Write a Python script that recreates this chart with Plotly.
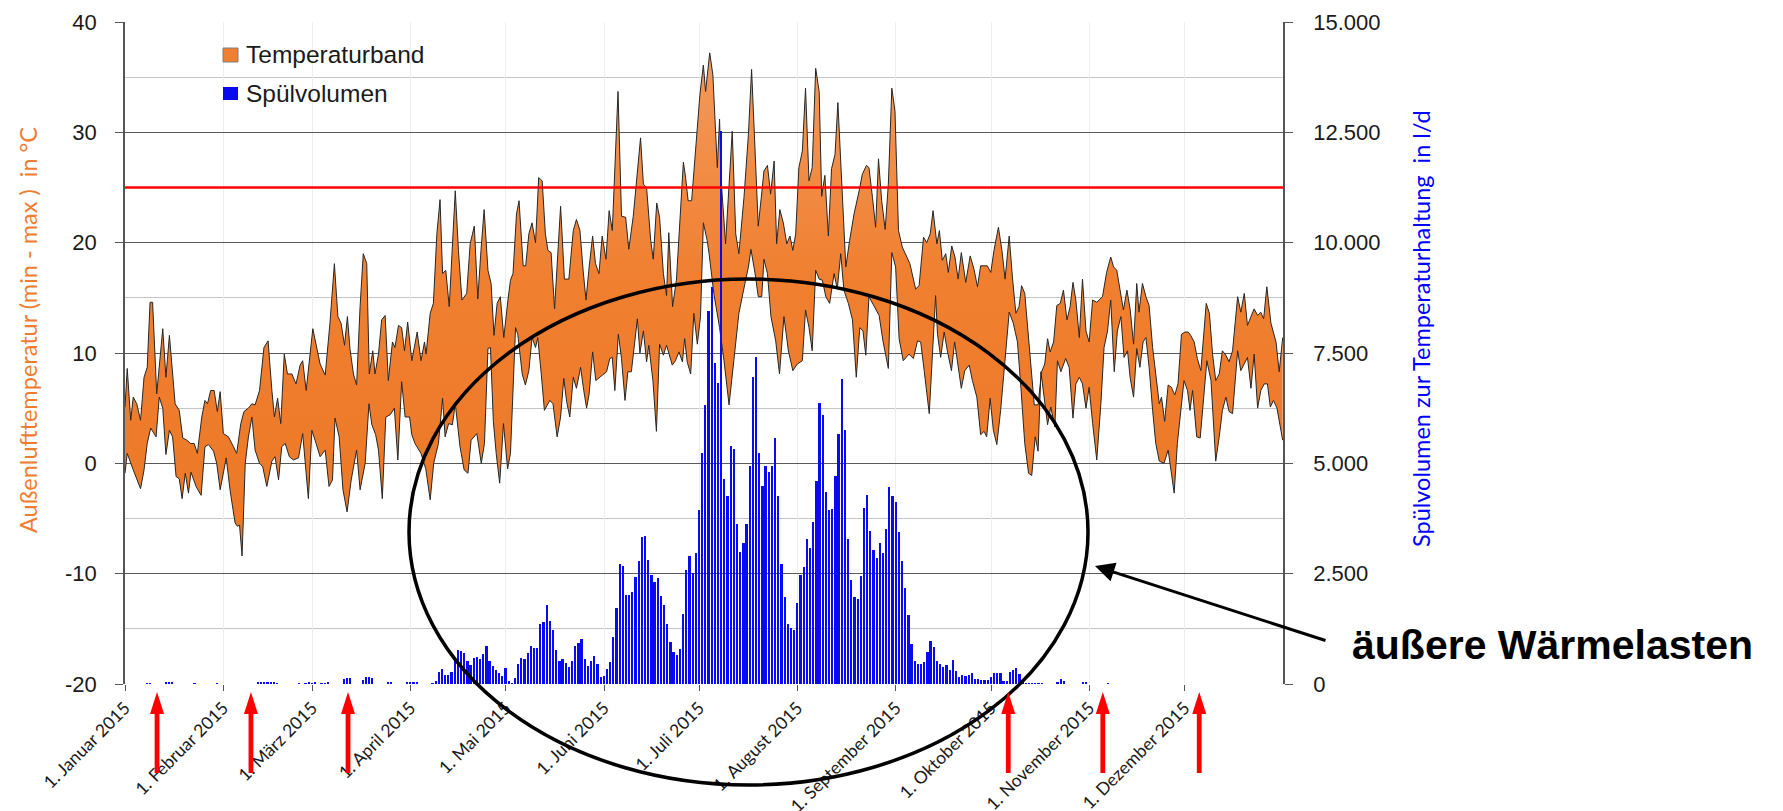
import plotly.graph_objects as go
from datetime import datetime, timedelta

# ---------------- data ----------------
JAHR_START = datetime(2015, 1, 1)

# (Tag des Jahres, Tagesmaximum °C)
tmax_punkte = [
    (0.0, 5.1), (0.7, 8.6), (1.8, 3.9), (2.6, 6.0), (3.7, 5.4), (4.9, 3.9), (6.0, 7.8), (7.0, 8.7),
    (7.9, 14.6), (8.7, 14.6), (10.0, 6.3), (11.9, 12.2), (12.9, 7.8), (14.0, 11.6), (15.8, 5.4),
    (17.1, 4.8), (18.2, 2.3), (19.5, 2.1), (20.7, 1.8), (21.8, 1.8), (22.8, 0.9), (24.2, 4.2),
    (25.2, 5.7), (26.0, 5.4), (27.0, 6.6), (28.1, 6.6), (29.1, 4.7), (30.0, 6.5), (31.0, 2.7),
    (32.6, 2.4), (34.2, 1.5), (35.2, 0.9), (36.5, 3.6), (37.5, 4.7), (38.9, 5.0), (40.0, 5.4),
    (41.0, 5.3), (42.4, 6.6), (43.8, 10.5), (45.1, 11.1), (46.3, 6.6), (47.1, 4.2), (48.1, 5.9),
    (49.1, 3.6), (50.2, 9.9), (51.2, 8.1), (52.6, 8.1), (53.9, 7.2), (55.2, 8.9), (56.0, 9.3),
    (57.1, 6.6), (59.2, 12.2),
    (61.5, 9.0), (63.1, 8.0), (64.6, 12.7), (66.0, 18.1), (67.1, 13.3), (68.1, 12.7), (69.2, 10.7),
    (70.1, 13.3), (70.9, 10.4), (72.0, 8.1), (73.0, 7.1), (74.1, 14.2), (75.1, 19.0), (76.2, 18.1),
    (77.0, 8.1), (78.1, 10.2), (78.8, 8.1), (79.9, 9.9), (80.9, 13.0), (82.0, 13.4), (83.0, 7.5),
    (84.3, 11.0), (85.1, 10.5), (86.2, 12.5), (87.2, 12.3), (88.1, 10.2), (89.1, 12.8), (90.4, 9.3),
    (92.1, 11.9), (93.3, 9.3), (94.4, 11.0), (94.9, 9.9), (96.2, 13.6), (97.2, 14.5), (98.3, 20.8),
    (99.3, 23.9), (100.1, 17.2), (101.1, 17.5), (102.2, 14.2), (103.2, 20.5), (104.1, 24.7),
    (105.1, 19.3), (106.2, 14.8), (107.7, 15.4), (108.8, 19.9), (110.1, 21.5), (111.2, 14.9),
    (112.2, 19.3), (113.2, 23.0), (114.4, 17.5), (115.4, 16.3), (116.3, 11.6), (117.3, 14.5),
    (118.3, 15.1), (119.4, 11.4), (120.7, 14.8),
    (121.5, 16.6), (122.3, 17.2), (123.4, 22.6), (124.2, 23.8), (125.5, 17.9), (126.3, 17.9),
    (127.3, 20.8), (128.3, 21.8), (129.4, 20.0), (130.4, 25.9), (131.5, 25.6), (132.5, 20.8),
    (133.3, 19.3), (134.3, 19.1), (135.4, 14.0), (137.3, 23.3), (138.5, 16.7), (139.9, 16.7),
    (141.3, 21.1), (142.3, 22.1), (143.4, 21.1), (144.4, 17.5), (145.3, 14.8), (146.3, 17.8),
    (147.4, 20.6), (148.3, 18.1), (149.4, 17.2), (150.4, 20.6), (151.6, 18.5), (152.6, 22.9),
    (153.6, 21.1), (155.4, 33.7), (156.5, 22.4), (157.8, 22.3), (158.8, 19.4), (160.2, 22.4),
    (161.2, 25.8), (162.5, 29.5), (163.4, 25.3), (164.4, 25.0), (165.7, 20.2), (166.5, 18.5),
    (167.6, 23.6), (168.5, 22.3), (169.7, 17.2), (170.7, 15.2), (171.4, 20.9), (172.6, 14.2),
    (173.8, 16.6), (174.9, 22.0), (176.0, 27.3), (176.7, 25.9), (177.5, 23.8), (178.6, 23.8),
    (179.9, 28.9), (181.2, 33.4), (182.3, 36.1), (183.0, 33.7),
    (184.3, 37.2), (185.3, 35.2), (186.7, 26.8), (187.4, 31.2), (188.0, 25.3), (189.3, 19.9),
    (191.4, 30.1), (192.5, 20.8), (193.5, 19.0), (195.1, 24.1), (196.5, 29.8), (197.5, 35.7),
    (198.6, 28.3), (199.6, 21.5), (200.7, 24.5), (201.4, 26.5), (202.5, 27.0), (203.5, 24.4),
    (204.6, 27.4), (205.4, 19.9), (206.4, 23.0), (207.5, 21.8), (208.6, 19.9), (209.6, 20.6),
    (210.5, 19.3), (211.4, 20.8), (212.4, 26.8), (213.5, 28.3), (214.5, 34.0), (215.6, 25.6),
    (216.6, 26.8), (217.7, 35.8), (218.8, 33.7), (219.6, 24.2), (220.6, 26.1), (221.7, 20.6),
    (222.7, 26.7), (223.8, 28.0), (224.7, 32.7), (225.8, 25.6), (227.2, 17.8), (228.4, 20.2),
    (229.8, 22.6), (231.4, 24.7), (232.4, 26.2), (233.7, 27.0), (234.5, 26.8), (235.6, 24.1),
    (236.6, 21.4), (237.5, 27.6), (238.5, 23.8), (239.6, 21.2), (240.6, 25.3), (241.7, 34.0),
    (242.7, 31.9), (243.8, 21.1), (245.0, 19.6),
    (247.4, 18.1), (249.2, 15.8), (250.3, 16.1), (251.7, 20.5), (252.7, 20.0), (253.8, 20.8),
    (254.7, 22.9), (255.9, 19.9), (256.7, 21.1), (257.6, 18.4), (258.7, 19.0), (259.5, 17.3),
    (260.6, 19.7), (261.6, 18.7), (262.6, 16.7), (263.6, 19.1), (265.0, 16.4), (266.4, 18.8),
    (267.6, 17.6), (268.7, 16.0), (269.7, 17.9), (271.8, 17.9), (272.9, 17.3), (273.9, 19.3),
    (275.3, 21.4), (276.4, 19.3), (277.4, 16.7), (278.7, 20.6), (279.7, 16.9), (280.8, 13.6),
    (281.8, 14.2), (282.6, 16.1), (283.6, 15.4), (284.5, 12.7), (285.5, 9.0), (286.6, 5.3),
    (287.8, 5.3), (288.9, 8.3), (289.9, 9.0), (290.8, 11.3), (291.6, 10.1), (292.7, 11.0),
    (293.7, 14.3), (294.8, 14.5), (295.8, 15.7), (296.9, 13.0), (297.9, 14.2), (298.8, 16.4),
    (299.7, 14.8), (300.8, 11.4), (301.8, 16.7), (302.9, 12.0), (303.9, 11.0), (305.0, 14.8),
    (306.3, 14.6),
    (308.1, 15.1), (309.4, 17.3), (310.7, 18.7), (311.6, 17.8), (312.6, 17.5), (313.7, 15.4),
    (314.7, 13.9), (315.8, 15.7), (316.8, 14.0), (317.9, 10.8), (318.9, 16.3), (319.6, 13.7),
    (320.7, 16.3), (321.8, 15.1), (322.8, 14.3), (323.9, 10.5), (324.9, 7.8), (326.0, 5.4),
    (326.7, 6.0), (327.7, 3.8), (328.8, 7.1), (329.8, 6.9), (330.9, 6.2), (331.9, 7.2),
    (333.0, 11.7), (334.1, 11.9), (335.1, 11.9), (335.9, 11.6), (337.0, 11.0), (338.0, 9.5),
    (339.1, 8.4), (339.9, 11.7), (340.8, 14.5), (341.8, 13.6), (342.8, 9.9), (343.8, 7.5),
    (344.9, 8.1), (345.9, 10.2), (347.0, 9.8), (348.0, 9.2), (349.1, 10.2), (350.7, 15.1),
    (351.7, 13.7), (352.8, 15.4), (353.8, 12.5), (354.9, 13.3), (355.9, 14.0), (357.0, 13.4),
    (358.0, 13.7), (358.9, 13.1), (359.9, 16.0), (361.2, 12.7), (362.8, 11.0), (363.8, 8.3),
    (364.9, 11.4),
]

# (Tag des Jahres, Tagesminimum °C)
tmin_punkte = [
    (0.0, -0.9), (0.7, 0.9), (2.6, -0.6), (4.9, -2.3), (6.0, -0.6), (7.0, 1.8), (8.1, 3.2),
    (9.8, 2.4), (10.8, 6.0), (11.9, 5.0), (12.9, 0.8), (14.0, 3.0), (15.0, 2.4), (16.1, -1.2),
    (17.1, -1.4), (18.0, -3.2), (19.0, -0.9), (20.0, -2.7), (20.8, -0.8), (22.4, -2.1),
    (24.0, -2.9), (25.2, 1.5), (26.3, 1.7), (27.9, 1.1), (28.9, 0.0), (30.0, -2.4), (31.9, 0.5),
    (33.1, -2.4), (34.7, -5.4), (35.4, -5.7), (36.1, -5.6), (36.9, -8.4), (37.9, 0.0),
    (38.9, 2.4), (40.0, 4.2), (41.0, 1.2), (42.4, 0.0), (43.4, -0.3), (44.7, -2.1), (46.3, 0.2),
    (47.3, 0.6), (48.4, -1.5), (49.4, 1.5), (50.5, 1.8), (51.8, 0.6), (53.1, 0.3), (54.7, 0.5),
    (56.0, 2.7), (57.8, -3.2), (58.9, 3.0),
    (59.9, 2.1), (61.5, 0.6), (63.1, 1.2), (64.3, -2.1), (65.4, -1.5), (66.2, 4.1), (67.5, 2.4),
    (68.7, -2.4), (70.0, -4.4), (71.3, -1.5), (73.0, 1.2), (74.1, -2.4), (75.7, 0.0),
    (76.9, 5.4), (77.8, 3.5), (79.0, 2.6), (79.9, 1.2), (81.1, -3.2), (82.2, 4.2), (83.6, 4.4),
    (84.9, 5.0), (86.0, 0.3), (87.2, 7.4), (88.3, 4.2), (89.7, 4.2), (90.4, 2.6), (91.4, 1.8),
    (93.3, 0.9), (94.8, -0.5), (96.2, -3.3), (97.3, 0.0), (98.8, 1.8), (100.1, 5.9),
    (100.9, 2.4), (102.0, 3.6), (103.2, 3.5), (104.1, 5.4), (105.6, 1.5), (106.9, -0.6),
    (108.1, -0.9), (109.1, 2.1), (110.9, 2.7), (112.3, 0.0), (113.3, 1.8), (114.4, 10.4),
    (115.2, 10.5), (116.1, 3.8), (117.0, 0.9), (118.1, -1.8), (119.3, 3.6), (120.6, -0.5),
    (121.5, 0.9), (123.1, 12.3), (123.8, 11.7), (125.2, 8.1), (126.2, 7.1), (127.3, 8.4),
    (128.3, 11.4), (129.4, 10.5), (130.1, 11.4), (131.2, 8.1), (132.2, 4.8), (133.9, 5.7),
    (134.9, 5.4), (136.2, 2.4), (137.3, 4.2), (138.3, 7.7), (139.2, 5.6), (140.2, 4.2),
    (141.3, 7.8), (142.3, 6.8), (143.6, 8.7), (144.6, 6.6), (145.5, 5.0), (146.3, 6.3),
    (147.4, 10.1), (148.4, 7.5), (149.5, 7.8), (150.5, 8.0), (151.8, 8.3), (152.8, 9.5),
    (153.6, 9.6), (154.4, 6.6), (155.5, 11.7), (156.5, 9.5), (157.6, 5.7), (158.5, 8.3),
    (159.6, 8.3), (160.4, 10.1), (161.5, 13.1), (162.3, 10.0), (163.4, 12.0), (164.4, 9.2),
    (165.1, 10.7), (166.4, 7.5), (167.5, 2.9), (168.5, 10.8), (169.7, 9.8), (170.7, 10.7),
    (172.5, 8.9), (173.5, 9.3), (174.6, 10.1), (175.7, 9.2), (176.4, 11.3), (177.2, 9.2),
    (178.3, 8.1), (179.3, 13.6), (180.4, 10.8), (181.4, 13.3), (182.3, 21.8), (183.5, 20.2),
    (184.1, 19.0), (185.6, 15.4), (187.4, 12.3), (188.8, 9.3), (190.4, 5.3), (191.9, 9.3),
    (193.5, 13.6), (195.4, 16.3), (196.5, 17.8), (197.3, 19.4), (198.6, 17.2), (199.6, 15.1),
    (200.7, 15.1), (201.4, 18.5), (202.5, 17.2), (203.6, 13.3), (205.1, 11.1), (206.3, 8.1),
    (207.7, 13.3), (209.1, 10.2), (210.5, 8.4), (211.9, 9.0), (213.5, 9.3), (214.5, 13.9),
    (215.6, 12.3), (216.6, 10.2), (217.7, 17.5), (218.8, 16.7), (219.8, 16.6), (220.9, 15.1),
    (222.1, 14.5), (223.5, 17.2), (224.5, 15.8), (225.6, 19.0), (226.6, 15.7), (228.0, 14.5),
    (229.3, 13.0), (230.5, 7.8), (231.6, 12.3), (232.6, 12.0), (233.5, 9.8), (234.5, 15.1),
    (236.1, 14.2), (237.7, 13.4), (238.9, 11.1), (240.6, 8.6), (241.7, 19.1), (242.9, 17.8),
    (244.0, 11.3), (245.3, 9.3),
    (247.1, 9.9), (248.5, 9.5), (249.8, 11.1), (250.8, 11.0), (251.9, 8.4), (253.5, 4.5),
    (255.5, 15.2), (256.1, 11.7), (257.1, 9.6), (258.2, 11.9), (259.2, 10.2), (260.5, 8.4),
    (261.5, 11.0), (262.6, 9.0), (263.6, 6.8), (264.7, 8.4), (266.1, 8.9), (267.1, 7.5),
    (268.5, 6.0), (269.7, 2.6), (270.8, 2.9), (271.6, 2.4), (272.7, 5.9), (273.7, 3.0),
    (274.8, 1.7), (276.0, 4.8), (277.3, 9.0), (278.7, 13.7), (280.0, 12.7), (281.3, 11.0),
    (282.4, 6.8), (283.6, 1.8), (284.8, -0.9), (285.8, -1.1), (286.9, 2.4), (287.8, 1.1),
    (288.7, 8.3), (290.8, 3.5), (291.8, 5.1), (293.1, 3.3), (293.9, 9.3), (295.0, 8.3),
    (296.5, 9.5), (297.6, 8.7), (298.8, 4.1), (299.7, 7.2), (300.8, 7.8), (301.8, 7.2),
    (302.9, 5.0), (303.9, 6.9), (305.0, 3.6), (306.3, 0.3),
    (307.6, 5.4), (308.6, 10.5), (309.7, 12.0), (310.7, 14.8), (311.8, 8.3), (312.8, 12.0),
    (313.9, 13.3), (314.9, 9.6), (316.0, 10.2), (316.8, 7.8), (317.9, 6.0), (318.9, 10.4),
    (319.9, 8.7), (320.9, 11.0), (321.8, 11.4), (322.8, 8.7), (323.9, 4.8), (324.9, 1.8),
    (326.0, 0.2), (327.5, 0.0), (328.8, 1.2), (329.6, -0.6), (330.7, -2.7), (331.7, 1.8),
    (332.8, 4.8), (333.8, 7.5), (334.9, 6.6), (335.7, 4.8), (336.5, 6.6), (337.8, 2.4),
    (338.9, 2.3), (339.9, 5.4), (341.0, 9.3), (342.3, 7.5), (343.8, 0.2), (344.9, 2.4),
    (345.9, 4.8), (347.0, 6.0), (348.0, 4.7), (349.1, 4.5), (350.7, 10.2), (351.7, 8.4),
    (352.8, 9.0), (353.8, 9.6), (354.9, 6.8), (355.9, 9.9), (357.0, 5.0), (358.0, 6.6),
    (359.1, 7.2), (360.1, 7.2), (361.0, 5.1), (362.0, 5.7), (363.1, 5.0), (364.9, 2.1),
]

# (Tag des Jahres, Spülvolumen l/d)
spuel_punkte = [
    (7, 20), (8, 20), (13, 25), (14, 30), (15, 25), (22, 15), (29, 20),
    (42, 25), (43, 30), (44, 30), (45, 25), (46, 30), (47, 25), (48, 20),
    (55, 20), (57, 20), (58, 25), (59, 20), (60, 25), (62, 20), (63, 20), (64, 25),
    (69, 120), (70, 140), (71, 140), (75, 90), (76, 165), (77, 165), (78, 140),
    (83, 30), (84, 30), (89, 30), (90, 40), (91, 30), (92, 40),
    (97, 15), (98, 75), (99, 270), (100, 340), (101, 205), (102, 205), (103, 270), (104, 560),
    (105, 760), (106, 740), (107, 700), (108, 530), (109, 430), (110, 590), (111, 620),
    (112, 575), (113, 675), (114, 855), (115, 530), (116, 410), (117, 320), (118, 260),
    (119, 180), (120, 355), (121, 75), (122, 15), (123, 130), (124, 450), (125, 585),
    (126, 570), (127, 700), (128, 855), (129, 810), (130, 825), (131, 1365), (132, 1410),
    (133, 1800), (134, 1425), (135, 1230), (136, 775), (137, 530), (138, 570), (139, 485),
    (140, 395), (141, 515), (142, 870), (143, 925), (144, 1015), (145, 560), (146, 410),
    (147, 520), (148, 635), (149, 455), (150, 165), (151, 180), (152, 340), (153, 500),
    (154, 1070), (155, 1725), (156, 2725), (157, 2680), (158, 2020), (159, 2020), (160, 2080),
    (161, 2415), (162, 2790), (163, 3335), (164, 3355), (165, 2820), (166, 2470), (167, 2310),
    (168, 2410), (169, 1985), (170, 1790), (171, 1365), (172, 955), (173, 730), (174, 650),
    (175, 790), (176, 1590), (177, 2590), (178, 2900), (179, 2525), (180, 2970), (181, 3945),
    (182, 5225), (183, 6330), (184, 8460), (185, 9000), (186, 7270), (187, 6820), (188, 12520),
    (189, 4650), (190, 4255), (191, 5390), (192, 5330), (193, 3625), (194, 2990), (195, 3190),
    (196, 3625), (197, 4950), (198, 6945), (199, 7400), (200, 5240), (201, 4485), (202, 4935),
    (203, 4815), (204, 4950), (205, 5570), (206, 4265), (207, 2720), (208, 1970), (209, 1350),
    (210, 1270), (211, 1230), (212, 1840), (213, 2460), (214, 2655), (215, 3280), (216, 3075),
    (217, 3665), (218, 4610), (219, 6370), (220, 6100), (221, 4345), (222, 3935), (223, 3970),
    (224, 4715), (225, 5660), (226, 6920), (227, 5750), (228, 3290), (229, 2350), (230, 1970),
    (231, 1925), (232, 2455), (233, 3990), (234, 4280), (235, 3460), (236, 3040), (237, 2855),
    (238, 3205), (239, 2970), (240, 3520), (241, 4470), (242, 4260), (243, 4120), (244, 3450),
    (245, 2780), (246, 2175), (247, 1570), (248, 900), (249, 530), (250, 445), (251, 445),
    (252, 490), (253, 720), (254, 975), (255, 835), (256, 530), (257, 455), (258, 395),
    (259, 425), (260, 320), (261, 545), (262, 295), (263, 165), (264, 205), (265, 180),
    (266, 205), (267, 240), (268, 105), (269, 115), (270, 85), (271, 85), (272, 85), (273, 165),
    (274, 260), (275, 240), (276, 240), (277, 75), (278, 75), (279, 265), (280, 320), (281, 370),
    (282, 220), (283, 40), (284, 20), (285, 20), (286, 20), (287, 20), (288, 20), (289, 20),
    (294, 40), (295, 110), (296, 60), (302, 50), (303, 30), (310, 20),
]

monat_tage = [0, 31, 59, 90, 120, 151, 181, 212, 243, 273, 304, 334]
monat_text = ["1. Januar 2015", "1. Februar 2015", "1. März 2015", "1. April 2015",
              "1. Mai 2015", "1. Juni 2015", "1. Juli 2015", "1. August 2015",
              "1. September 2015", "1. Oktober 2015", "1. November 2015", "1. Dezember 2015"]
temp_ticks = [-20, -10, 0, 10, 20, 30, 40]
temp_ticktext = ["-20", "-10", "0", "10", "20", "30", "40"]
vol_ticks = [0, 2500, 5000, 7500, 10000, 12500, 15000]
vol_ticktext = ["0", "2.500", "5.000", "7.500", "10.000", "12.500", "15.000"]
pfeil_tage = [10.1, 39.7, 70.3, 278.4, 308.2, 338.6]
grenzwert = 25

# ---------------- helpers ----------------
def datum(tag):
    return (JAHR_START + timedelta(days=tag)).strftime("%Y-%m-%d %H:%M:%S")

W, H = 1783, 811
L, R, T, B = 125, 1283, 22, 684  # plot area in pixels


def px(x):
    return (x - L) / (R - L)


def py(y):
    return (B - y) / (B - T)


ORANGE = "#F07F30"
BLUE = "#0A0AF0"
TICKFONT = dict(family="Liberation Sans, Arial, sans-serif", size=22, color="#1a1a1a")

fig = go.Figure()

fig.add_trace(go.Scatter(
    x=[datum(d) for d, _ in tmin_punkte], y=[v for _, v in tmin_punkte],
    mode="lines", line=dict(color="#262626", width=1), showlegend=False, hoverinfo="skip"))
fig.add_trace(go.Scatter(
    x=[datum(d) for d, _ in tmax_punkte], y=[v for _, v in tmax_punkte],
    mode="lines", line=dict(color="#262626", width=1), fill="tonexty", fillcolor=ORANGE,
    fillgradient=dict(type="vertical",
                      colorscale=[[0.0, "#EC7826"], [0.55, "#F07F30"], [1.0, "#F39A5C"]]),
    showlegend=False, name="Temperaturband"))
fig.add_trace(go.Bar(
    x=[datum(d) for d, _ in spuel_punkte], y=[v for _, v in spuel_punkte],
    yaxis="y2", marker=dict(color=BLUE, line=dict(width=0)), width=0.55 * 86400000,
    showlegend=False, name="Spülvolumen"))

shapes = [
    dict(type="line", xref="paper", x0=0, x1=1, yref="y", y0=grenzwert, y1=grenzwert,
         line=dict(color="#FF0000", width=2.6), layer="above"),
    dict(type="circle", xref="paper", yref="paper",
         x0=px(409), x1=px(1088), y0=py(785), y1=py(279),
         line=dict(color="#000000", width=3.5), layer="above"),
    # legend swatches
    dict(type="rect", xref="paper", yref="paper", x0=px(223), x1=px(238), y0=py(62), y1=py(48),
         fillcolor=ORANGE, line=dict(color="#7f7f7f", width=1), layer="above"),
    dict(type="rect", xref="paper", yref="paper", x0=px(223), x1=px(238), y0=py(100), y1=py(87),
         fillcolor=BLUE, line=dict(width=0), layer="above"),
]
# red marker arrows below the time axis (pixel-sized, anchored at the date)
PFEIL_PFAD = "M0,0 L7,-22 L2.4,-22 L2.4,-81 L-2.4,-81 L-2.4,-22 L-7,-22 Z"
for d in pfeil_tage:
    shapes.append(dict(
        type="path", xref="x", yref="paper", xsizemode="pixel", ysizemode="pixel",
        xanchor=datum(d), yanchor=py(692), path=PFEIL_PFAD,
        fillcolor="#FF0000", line=dict(width=0), layer="above"))

annotations = [
    dict(text="Außenlufttemperatur (min - max )  in °C", xref="paper", yref="paper",
         x=px(28), y=py(330), textangle=-90, showarrow=False, xanchor="center", yanchor="middle",
         font=dict(family="Lato, sans-serif", size=23.5, color="#ED7D31")),
    dict(text="Spülvolumen zur Temperaturhaltung  in l/d", xref="paper", yref="paper",
         x=px(1421), y=py(329), textangle=-90, showarrow=False, xanchor="center", yanchor="middle",
         font=dict(family="Lato, sans-serif", size=23.5, color="#0000FF")),
    dict(text="Temperaturband", xref="paper", yref="paper", x=px(244), y=py(55),
         xanchor="left", yanchor="middle", showarrow=False,
         font=dict(family="Liberation Sans, Arial, sans-serif", size=24.5, color="#1a1a1a")),
    dict(text="Spülvolumen", xref="paper", yref="paper", x=px(244), y=py(94),
         xanchor="left", yanchor="middle", showarrow=False,
         font=dict(family="Liberation Sans, Arial, sans-serif", size=24.5, color="#1a1a1a")),
    dict(text="<b>äußere Wärmelasten</b>", xref="paper", yref="paper", x=px(1350), y=py(645),
         xanchor="left", yanchor="middle", showarrow=False,
         font=dict(family="Liberation Sans, Arial, sans-serif", size=41, color="#000000")),
    dict(text="", xref="paper", yref="paper", x=px(1095), y=py(566),
         ax=1327 - 1095, ay=641 - 566, axref="pixel", ayref="pixel",
         showarrow=True, arrowhead=2, arrowsize=1.3, arrowwidth=3, arrowcolor="#000000",
         standoff=0),
]

fig.update_layout(
    width=W, height=H,
    margin=dict(l=L, r=W - R, t=T, b=H - B, pad=0),
    paper_bgcolor="white", plot_bgcolor="white",
    showlegend=False, bargap=0,
    xaxis=dict(
        type="date", range=[datum(0), datum(365)], automargin=False,
        tickmode="array", tickvals=[datum(d) for d in monat_tage], ticktext=monat_text,
        tickangle=-45, ticks="outside", ticklen=6, tickcolor="#555555", tickwidth=1.2,
        tickfont=dict(family="Lato, sans-serif", size=17.5, color="#1a1a1a"),
        showgrid=True, gridcolor="#eeeeee", gridwidth=1, zeroline=False, showline=False),
    yaxis=dict(
        range=[-20, 40], automargin=False, tickmode="array", tickvals=temp_ticks,
        ticktext=temp_ticktext, ticks="outside", ticklen=8, tickcolor="#555555", tickwidth=1.3,
        ticklabelstandoff=14, tickfont=TICKFONT,
        showline=True, linecolor="#555555", linewidth=1.6, mirror=False,
        showgrid=True, gridcolor="#5a5a5a", gridwidth=1.3, zeroline=False,
        minor=dict(tickmode="array", tickvals=[-15, -5, 5, 15, 25, 35], showgrid=True,
                   gridcolor="#c4c4c4", gridwidth=1.3, ticks="")),
    yaxis2=dict(
        range=[0, 15000], overlaying="y", side="right", automargin=False,
        tickmode="array", tickvals=vol_ticks, ticktext=vol_ticktext,
        ticks="outside", ticklen=8, tickcolor="#555555", tickwidth=1.3,
        ticklabelstandoff=16, tickfont=TICKFONT,
        showline=True, linecolor="#555555", linewidth=1.6,
        showgrid=False, zeroline=False),
    shapes=shapes,
    annotations=annotations,
)

fig.write_html("out.html")
